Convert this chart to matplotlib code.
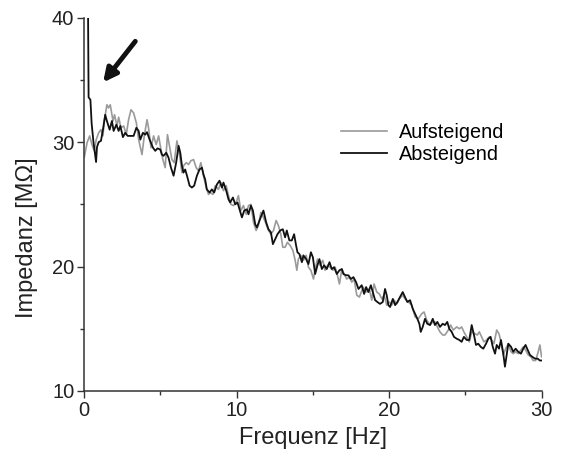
import numpy as np
import matplotlib
matplotlib.use("Agg")
import matplotlib.pyplot as plt

freq_auf = [0.02, 0.2, 0.37, 0.52, 0.67, 0.8, 0.96, 1.11, 1.24, 1.33, 1.5, 1.61, 1.72, 1.9, 2.0,
            2.16, 2.27, 2.42, 2.6, 2.77, 2.92, 3.08, 3.25, 3.43, 3.58, 3.8, 3.95, 4.13, 4.23, 4.39,
            4.56, 4.73, 4.89, 5.0, 5.17, 5.32, 5.47, 5.6, 5.76, 5.91, 6.09, 6.26, 6.42, 6.52, 6.7,
            6.85, 7.0, 7.18, 7.35, 7.5, 7.66, 7.83, 8.01, 8.16, 8.27, 8.45, 8.6, 8.81, 8.97,
            9.14, 9.32, 9.47, 9.63, 9.8, 9.97, 10.12, 10.28, 10.45, 10.63, 10.78, 10.94, 11.11, 11.28,
            11.43, 11.59, 11.76, 11.94, 12.09, 12.25, 12.42, 12.59, 12.74, 12.9, 13.03, 13.18, 13.33, 13.51,
            13.69, 13.84, 13.95, 14.05, 14.21, 14.38, 14.56, 14.71, 14.87, 15.04, 15.15, 15.3, 15.47, 15.65,
            15.8, 15.96, 16.13, 16.31, 16.46, 16.61, 16.74, 16.9, 17.05, 17.22, 17.39, 17.55, 17.7, 17.88, 18.05,
            18.3, 18.49, 18.7, 18.86, 19.01, 19.19, 19.36, 19.52, 19.67, 19.84, 20.01, 20.17, 20.32, 20.5,
            20.67, 20.89, 21.04, 21.26, 21.48, 21.7, 21.91, 22.13, 22.29, 22.46,
            22.68, 22.86, 23.0, 23.16, 23.33, 23.51, 23.66, 23.88, 24.03, 24.2, 24.43, 24.6, 24.75, 24.9,
            25.08, 25.25, 25.41, 25.62, 25.78, 25.91, 26.06, 26.21, 26.39, 26.57, 26.72, 26.87,
            27.05, 27.2, 27.33, 27.48, 27.64, 27.81, 27.99, 28.13, 28.29, 28.46, 28.64, 28.79, 28.94,
            29.11, 29.29, 29.44, 29.6, 29.77, 29.88, 29.99]
imp_auf = [28.8, 29.95, 30.5, 29.8, 29.3, 30.2, 30.75, 31.0, 30.5, 31.7, 33.0, 32.75, 33.0, 31.7, 32.2,
           31.3, 32.0, 31.15, 31.3, 30.6, 31.8, 32.6, 32.35, 31.55, 30.2, 29.0, 30.5, 31.8, 31.15, 29.55,
           30.5, 29.8, 30.5, 29.7, 28.6, 27.95, 30.6, 29.7, 28.6, 28.35, 30.1, 29.0, 27.55, 28.1, 28.35,
           28.2, 28.5, 28.6, 27.95, 27.7, 28.35, 27.3, 26.35, 25.8, 25.95, 25.8, 26.5, 26.2, 26.75,
           26.1, 26.5, 25.7, 25.0, 24.9, 25.15, 25.7, 24.5, 24.9, 24.2, 24.9, 25.0, 23.55, 22.9,
           23.3, 24.35, 23.95, 23.4, 22.9, 22.6, 22.9, 23.7, 23.3, 22.6, 21.55, 21.55, 21.95, 21.7,
           21.3, 20.5, 19.7, 20.6, 20.9, 20.5, 20.9, 19.95, 19.7, 19.0, 19.8, 20.6, 20.1, 20.5,
           19.7, 20.1, 19.95, 19.7, 19.95, 19.3, 18.6, 19.8, 19.4, 19.0, 19.15, 18.75, 19.0, 17.7, 17.55,
           18.35, 17.95, 18.2, 17.3, 18.6, 17.95, 17.8, 17.4, 17.7, 16.9, 17.15, 16.9, 17.3, 17.0,
           17.4, 17.7, 17.4, 17.15, 16.9, 15.95, 15.8, 16.2, 16.35, 15.7,
           15.3, 15.55, 15.55, 15.15, 14.75, 14.5, 14.5, 14.9, 15.3, 14.9, 15.15, 15.0, 15.15, 14.75,
           14.35, 13.95, 14.75, 14.6, 14.5, 14.75, 14.35, 13.95, 14.1, 14.35, 14.1, 13.8,
           14.9, 14.6, 13.95, 12.9, 13.4, 13.8, 13.15, 13.0, 13.15, 13.0, 13.3, 13.55, 13.3,
           12.9, 12.75, 12.45, 12.45, 13.15, 13.7, 12.75]

freq_ab = [0.24, 0.30, 0.42, 0.50, 0.62, 0.79, 0.85, 0.96, 1.11, 1.24, 1.39, 1.5, 1.68, 1.83, 1.94,
           2.12, 2.27, 2.38, 2.55, 2.7, 2.86, 3.03, 3.25, 3.43, 3.58, 3.69, 3.86, 4.01, 4.13, 4.3,
           4.52, 4.67, 4.82, 5.0, 5.1, 5.21, 5.39, 5.54, 5.7, 5.87, 6.04, 6.2, 6.31, 6.42, 6.52,
           6.63, 6.75, 6.92, 7.07, 7.22, 7.4, 7.57, 7.73, 7.83, 7.94, 8.05, 8.23, 8.38, 8.53, 8.71, 8.88,
           9.04, 9.14, 9.32, 9.47, 9.58, 9.76, 9.91, 10.06, 10.19, 10.35, 10.5, 10.68, 10.78, 10.94,
           11.07, 11.22, 11.33, 11.5, 11.66, 11.76, 11.94, 12.09, 12.25, 12.38, 12.53, 12.68, 12.86,
           13.03, 13.18, 13.29, 13.46,
           13.62, 13.77, 13.9, 13.99, 14.12, 14.28, 14.38, 14.56, 14.71, 14.87, 15.0, 15.15, 15.3, 15.43,
           15.59, 15.74, 15.91, 16.09, 16.24, 16.39, 16.57, 16.74, 16.9, 17.0, 17.18, 17.33, 17.49, 17.66,
           17.83, 17.99,
           18.2, 18.36, 18.49, 18.64, 18.8, 18.93, 19.08, 19.23, 19.4, 19.58, 19.73, 19.84, 19.95, 20.06,
           20.24, 20.39, 20.54, 20.71, 20.89, 21.04, 21.19, 21.37, 21.55, 21.7, 21.85, 21.98, 22.07, 22.2,
           22.35, 22.5,
           22.68, 22.86, 23.0, 23.16, 23.33, 23.51, 23.66, 23.81, 23.94, 24.1, 24.25, 24.43, 24.6, 24.75,
           24.9, 25.08, 25.25, 25.41, 25.56, 25.69, 25.84, 26.0, 26.17, 26.35, 26.5, 26.65, 26.79, 26.94,
           27.05, 27.2, 27.33, 27.48, 27.59, 27.7, 27.81, 27.99, 28.13, 28.29, 28.46, 28.64, 28.79, 28.94,
           29.08, 29.23, 29.38, 29.56, 29.73, 29.88, 29.99]
imp_ab = [45.0, 33.6, 33.4, 31.5, 30.0, 28.4, 29.6, 30.0, 30.1, 31.0, 32.2, 31.7, 31.0, 31.7, 30.9,
          31.4, 30.9, 31.3, 30.4, 30.75, 30.5, 30.5, 30.5, 31.15, 30.9, 30.2, 30.75, 30.6, 30.8, 30.2,
          29.55, 29.3, 29.5, 29.4, 29.0, 28.9, 29.15, 28.75, 27.95, 27.3, 28.35, 29.7, 29.15, 28.1, 27.55,
          27.8, 27.3, 26.5, 26.35, 26.5, 27.3, 27.8, 27.95, 27.4, 27.0, 26.2, 25.95, 26.2, 25.95, 26.6, 26.9,
          26.35, 26.75, 26.1, 25.4, 25.15, 25.55, 25.0, 25.15, 24.6, 23.95, 24.5, 24.6, 24.2, 24.9,
          24.5, 23.4, 23.15, 23.7, 24.2, 24.5, 23.55, 23.0, 22.75, 21.8, 22.2, 22.6, 22.9,
          23.0, 22.35, 22.9, 22.1,
          22.1, 22.6, 21.7, 21.15, 21.0, 20.35, 20.9, 20.6, 20.2, 21.15, 20.75, 19.4, 20.1, 20.6,
          19.8, 20.1, 19.8, 20.35, 19.8, 19.95, 19.4, 19.7, 19.8, 19.4, 19.3, 19.3, 19.0, 19.15,
          18.75, 18.2,
          18.5, 17.8, 18.35, 17.95, 18.5, 17.95, 17.3, 17.15, 17.0, 17.15, 18.2, 17.7, 16.9, 16.75,
          17.4, 16.9, 17.15, 17.55, 17.95, 17.55, 17.15, 17.3, 16.6, 16.2, 15.8, 15.4, 14.75, 15.15,
          15.8, 15.4,
          15.3, 15.8, 15.3, 15.55, 15.15, 15.4, 15.3, 15.55, 15.0, 14.75, 14.35, 14.2, 14.1, 13.95,
          14.35, 14.1, 14.1, 15.3, 14.5, 13.7, 13.8, 13.55, 13.4, 13.8, 14.2, 14.35, 13.55, 13.0,
          13.7, 13.4, 14.1, 13.0, 11.95, 12.9, 13.8, 13.55, 13.15, 13.4, 13.15, 13.0, 13.4, 13.7,
          13.3, 12.9, 12.75, 12.6, 12.6, 12.45, 12.45]

plt.rcParams["font.family"] = ["Liberation Sans", "DejaVu Sans"]

fig = plt.figure(figsize=(5.65, 4.62), dpi=100)
ax = fig.add_axes([0.1487, 0.1537, 0.8101, 0.808])

ax.plot(freq_auf, imp_auf, color="#9a9a9a", lw=1.2, label="Aufsteigend")
ax.plot(freq_ab, imp_ab, color="#111111", lw=1.3, label="Absteigend")

ax.set_xlim(0, 30)
ax.set_ylim(10, 40)
ax.set_xticks([0, 10, 20, 30])
ax.set_xticks([5, 15, 25], minor=True)
ax.set_yticks([10, 20, 30, 40])
ax.set_yticks([15, 25, 35], minor=True)

for s in ["top", "right"]:
    ax.spines[s].set_visible(False)
for s in ["left", "bottom"]:
    ax.spines[s].set_color("#333333")
    ax.spines[s].set_linewidth(1.1)

ax.tick_params(which="major", length=5, width=1.0, color="#333333", labelsize=14.5,
               labelcolor="#222222", pad=2)
ax.tick_params(which="minor", length=3, width=1.0, color="#333333")

ax.set_xlabel("Frequenz [Hz]", fontsize=17, color="#222222", labelpad=5)
ax.set_ylabel("Impedanz [M\u03a9]", fontsize=17, color="#222222")
ax.yaxis.set_label_coords(-0.10, 0.41)

ax.legend(loc="upper left", bbox_to_anchor=(0.54, 0.745), frameon=False, fontsize=14.3,
          handlelength=2.3, handletextpad=0.6, labelspacing=0.15, borderpad=0)

# Pfeil auf den Anfangsbereich
ax.annotate("", xy=(1.25, 34.8), xytext=(3.36, 38.1),
            arrowprops=dict(arrowstyle="-|>,head_length=0.8,head_width=0.4", lw=3.5,
                            color="#111111", shrinkA=0, shrinkB=0))

fig.savefig("out.png", dpi=100)
